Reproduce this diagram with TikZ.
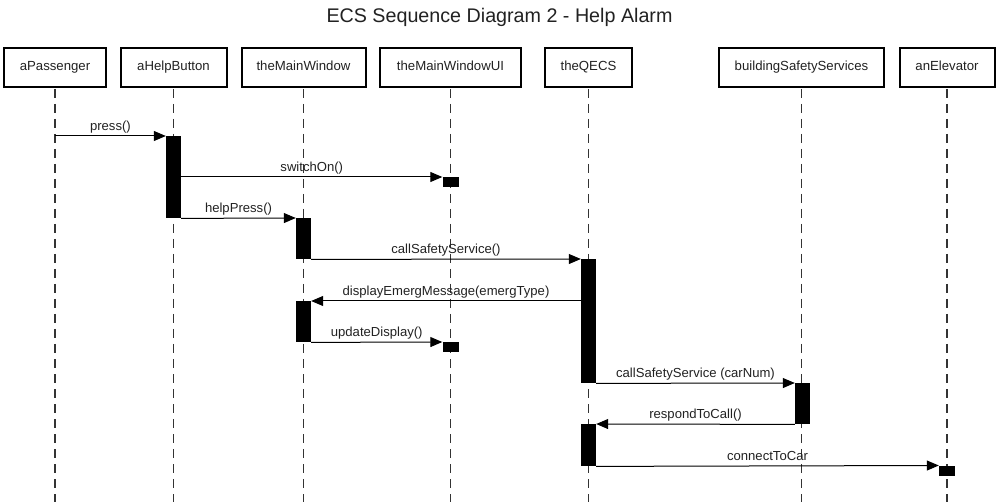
\documentclass[tikz,border=0pt]{standalone}
\usepackage{fontspec}
\setmainfont{Liberation Sans}
\usetikzlibrary{arrows.meta}
\definecolor{txt}{HTML}{222222}
\begin{document}
\begin{tikzpicture}[x=1pt,y=-1pt,
  obj/.style={draw=black,line width=2pt,rectangle,minimum height=39pt,inner sep=0pt,text height=9.5pt,text depth=2.5pt,font=\fontsize{13.2}{15}\selectfont,text=txt},
  life/.style={draw=black!80,line width=1.2pt,dash pattern=on 9pt off 6pt},
  act/.style={fill=black,draw=none,rectangle,inner sep=0pt,minimum width=15pt,anchor=north},
  sact/.style={fill=black,draw=none,rectangle,inner sep=0pt,minimum width=16pt,minimum height=10pt,anchor=north},
  msg/.style={draw=black,line width=1pt,-{Triangle[length=12pt,width=10pt]}},
  lbl/.style={midway,anchor=base,yshift=5.5pt,font=\fontsize{13.1}{15}\selectfont,text=txt,inner sep=0pt}
]
\useasboundingbox (0,0) rectangle (998,502);
\fill[white] (0,0) rectangle (998,502);
\node[font=\fontsize{19.7}{22}\selectfont,text=txt] (title) at (499.5,17) {ECS Sequence Diagram 2 - Help Alarm};

% objects
\node[obj,minimum width=102pt] (pas) at (55,67.5) {aPassenger};
\node[obj,minimum width=106pt] (hb) at (173.5,67.5) {aHelpButton};
\node[obj,minimum width=124pt] (mw) at (303.5,67.5) {theMainWindow};
\node[obj,minimum width=141pt] (ui) at (450.5,67.5) {theMainWindowUI};
\node[obj,minimum width=87pt] (qe) at (588.5,67.5) {theQECS};
\node[obj,minimum width=165pt] (bs) at (801.5,67.5) {buildingSafetyServices};
\node[obj,minimum width=95pt] (el) at (947,67.5) {anElevator};

% lifeline ends
\coordinate (pasE) at (55,502);
\coordinate (hbE) at (173.5,502);
\coordinate (mwE) at (303.5,502);
\coordinate (uiE) at (450.5,502);
\coordinate (qeE) at (588.5,502);
\coordinate (bsE) at (801.5,502);
\coordinate (elE) at (947,502);
\foreach \o in {pas,hb,mw,ui,qe,bs,el}{
  \draw[life] ([yshift=-1pt]\o.south) -- (\o E);
}

% activations
\node[act,minimum height=82pt] (hb1) at (173.5,136) {};
\node[sact] (ui1) at (450.5,177) {};
\node[act,minimum height=41pt] (mw1) at (303.5,218) {};
\node[act,minimum height=124pt] (q1) at (588.5,259) {};
\node[act,minimum height=41pt] (mw2) at (303.5,301) {};
\node[sact] (ui2) at (450.5,342) {};
\node[act,minimum height=41pt] (b1) at (802.5,383) {};
\node[act,minimum height=42pt] (q2) at (588.5,424) {};
\node[sact] (el1) at (947,465.5) {};

\coordinate (p1) at (55,136);

% messages
\draw[msg] (p1) -- (hb1.north west) node[lbl] {press()};
\draw[msg] (hb1.east |- ui1.north) -- (ui1.north west) node[lbl] {switchOn()};
\draw[msg] (hb1.south east) -- (mw1.north west) node[lbl] {helpPress()};
\draw[msg] (mw1.south east) -- (q1.north west) node[lbl] {callSafetyService()};
\draw[msg] (q1.west |- mw2.north) -- (mw2.north east) node[lbl] {displayEmergMessage(emergType)};
\draw[msg] (mw2.south east) -- (ui2.north west) node[lbl] {updateDisplay()};
\draw[msg] (q1.south east) -- (b1.north west) node[lbl] {callSafetyService (carNum)};
\draw[msg] (b1.south west) -- (q2.north east) node[lbl] {respondToCall()};
\draw[msg] (q2.south east) -- (el1.north west) node[lbl] {connectToCar};
\end{tikzpicture}
\end{document}
